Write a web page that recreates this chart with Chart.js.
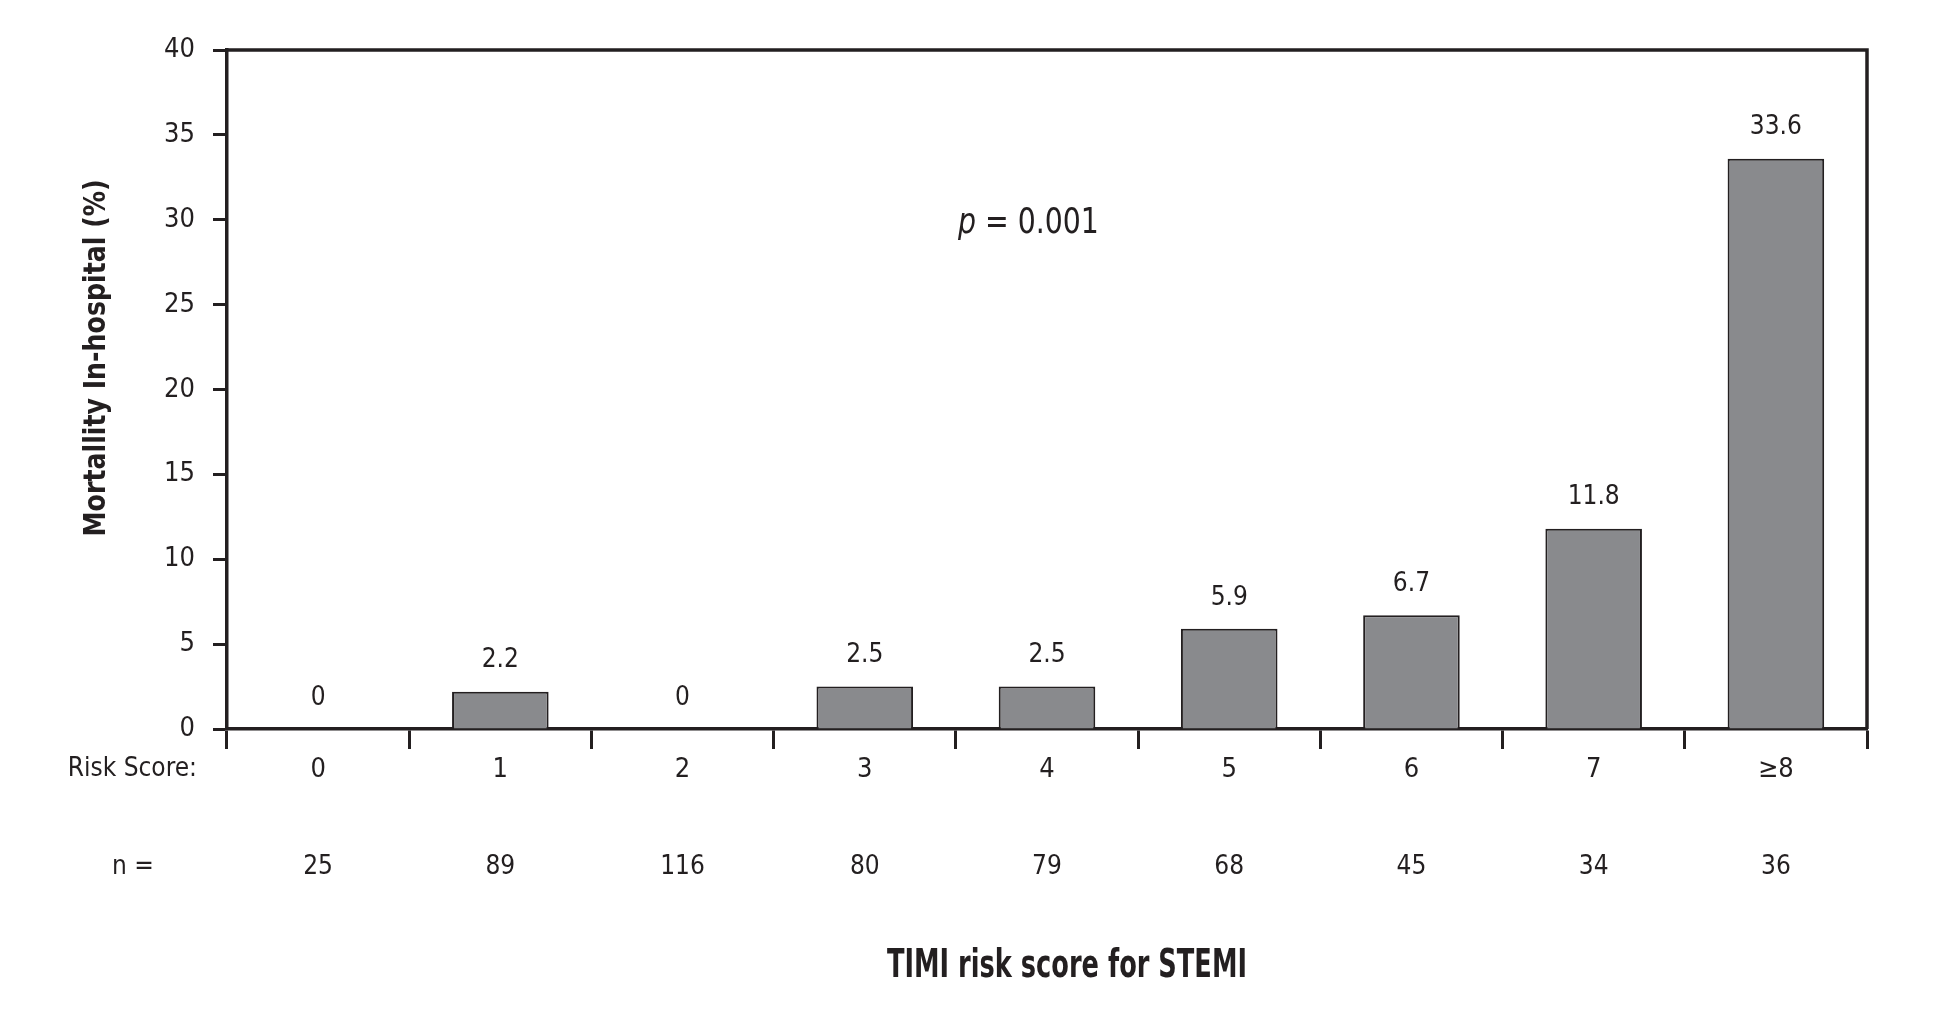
<!DOCTYPE html>
<html>
<head>
<meta charset="utf-8">
<script src="https://cdn.jsdelivr.net/npm/chart.js@4.4.1/dist/chart.umd.min.js"></script>
<style>
    html, body { margin: 0; padding: 0; background: #ffffff; }
    #wrap { width: 1933px; height: 1012px; }
</style>
</head>
<body>
<div id="wrap"><canvas id="timiChart"></canvas></div>
<script>
const riskScores = ['0', '1', '2', '3', '4', '5', '6', '7', '≥8']
const mortality = [0, 2.2, 0, 2.5, 2.5, 5.9, 6.7, 11.8, 33.6]
const patientCounts = [25, 89, 116, 80, 79, 68, 45, 34, 36]
const yTicks = [0, 5, 10, 15, 20, 25, 30, 35, 40]

const FONT = "'DejaVu Sans Condensed', 'Liberation Sans Narrow', 'Liberation Sans', sans-serif"
const INK = '#231f20'

// draw text squeezed horizontally to a given width, centred on (cx, cy)
function fittedText(ctx, text, cx, cy, font, width) {
    ctx.save()
    ctx.font = font
    const w = ctx.measureText(text).width
    ctx.translate(cx, cy)
    ctx.scale(width / w, 1)
    ctx.textAlign = 'center'
    ctx.textBaseline = 'middle'
    ctx.fillText(text, 0, 0)
    ctx.restore()
}

document.addEventListener("DOMContentLoaded", function () {
    const canvas = document.getElementById("timiChart")

    const annotations = {
        id: 'annotations',
        afterDraw(chart) {
            const {ctx, chartArea: {left, top, right, bottom}} = chart
            const x = chart.scales.x
            ctx.save()
            ctx.fillStyle = INK
            ctx.strokeStyle = INK

            // frame: top and right sides
            ctx.lineWidth = 3.5
            ctx.beginPath()
            ctx.moveTo(left, top)
            ctx.lineTo(right, top)
            ctx.lineTo(right, bottom)
            ctx.stroke()

            // value labels above bars
            ctx.font = "26px " + FONT
            ctx.textAlign = 'center'
            ctx.textBaseline = 'middle'
            chart.getDatasetMeta(0).data.forEach((bar, i) => {
                ctx.fillText(String(mortality[i]), bar.x, bar.y - 31)
            })

            // row captions and n counts
            ctx.font = "26px " + FONT
            ctx.textAlign = 'right'
            ctx.fillText('Risk Score:', left - 30, bottom + 40)
            ctx.textAlign = 'center'
            ctx.fillText('n =', 133, bottom + 138)
            patientCounts.forEach((n, i) => {
                ctx.fillText(String(n), x.getPixelForValue(i), bottom + 138)
            })

            // p value
            ctx.save()
            ctx.translate(958, 224)
            ctx.scale(0.9, 1)
            ctx.textAlign = 'left'
            ctx.font = "italic 35px " + FONT
            ctx.fillText('p', 0, 0)
            const pw = ctx.measureText('p').width
            ctx.font = "35px " + FONT
            ctx.fillText(' = 0.001', pw, 0)
            ctx.restore()

            // axis titles
            fittedText(ctx, 'TIMI risk score for STEMI', 1067, 967, "bold 39px " + FONT, 360)
            ctx.translate(97, 358)
            ctx.rotate(-Math.PI / 2)
            fittedText(ctx, 'Mortallity In-hospital (%)', 0, 0, "bold 31px " + FONT, 357)
            ctx.restore()
        }
    }

    const barChartData = {
        labels: riskScores,
        datasets: [
            {
                label: 'Mortality in-hospital (%)',
                data: mortality,
                backgroundColor: '#898a8d',
                borderColor: INK,
                borderWidth: 2,
                barPercentage: 0.53,
                categoryPercentage: 1,
            },
        ]
    }

    const barChartConfig = {
        type: 'bar',
        data: barChartData,
        options: {
            responsive: true,
            maintainAspectRatio: false,
            animation: false,
            layout: {
                padding: {left: 0, top: 50, right: 66, bottom: 0}
            },
            scales: {
                x: {
                    afterFit: (scale) => { scale.height = 283 },
                    grid: {
                        display: true,
                        drawOnChartArea: false,
                        offset: true,
                        tickLength: 20,
                        tickWidth: 3,
                        tickColor: INK,
                    },
                    border: {
                        display: true,
                        width: 3.5,
                        color: INK,
                    },
                    ticks: {
                        color: INK,
                        padding: 5,
                        font: {size: 27, family: FONT},
                    },
                },
                y: {
                    min: 0,
                    max: 40,
                    afterFit: (scale) => { scale.width = 227 },
                    afterBuildTicks: (scale) => {
                        scale.ticks = yTicks.map(v => ({value: v}))
                    },
                    grid: {
                        display: true,
                        drawOnChartArea: false,
                        tickLength: 14,
                        tickWidth: 3,
                        tickColor: INK,
                    },
                    border: {
                        display: true,
                        width: 3.5,
                        color: INK,
                    },
                    ticks: {
                        color: INK,
                        padding: 18,
                        font: {size: 27, family: FONT},
                    },
                }
            },
            plugins: {
                legend: {display: false},
                tooltip: {enabled: false},
            }
        },
        plugins: [annotations],
    }

    new Chart(canvas, barChartConfig)
})
</script>
</body>
</html>
